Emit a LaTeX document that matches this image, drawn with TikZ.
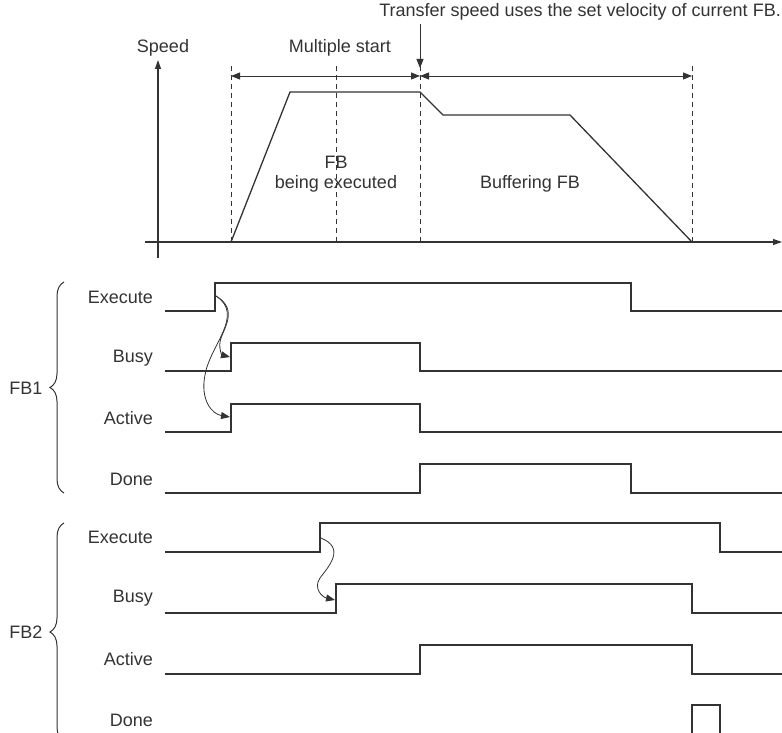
\documentclass[tikz,border=0pt]{standalone}
\usepackage{fontspec}
\setmainfont{Liberation Sans}
\usetikzlibrary{arrows.meta,decorations.pathreplacing}
\definecolor{ln}{HTML}{333333}
\begin{document}
\begin{tikzpicture}[x=1pt,y=-1pt,
  sig/.style={draw=ln,line width=1.3pt},
  axis/.style={draw=ln,line width=1.1pt,-{Triangle[length=9pt,width=6pt]}},
  guide/.style={draw=ln,line width=0.8pt,dash pattern=on 5pt off 4pt},
  span/.style={draw=ln,line width=0.8pt,{Triangle[length=9pt,width=7pt]}-{Triangle[length=9pt,width=7pt]}},
  cause/.style={draw=ln,line width=0.8pt,-{Triangle[length=9pt,width=7pt]}},
  lbl/.style={font=\fontsize{18}{21}\selectfont,text=ln,inner sep=0pt},
  rlbl/.style={lbl,anchor=east},
  brc/.style={draw=ln,line width=1pt,decorate,decoration={brace,amplitude=14pt,mirror}}]
\useasboundingbox (0,0) rectangle (782,733);
% top chart
\node[lbl,anchor=east] (note) at (781,12) {Transfer speed uses the set velocity of current FB.};
\coordinate (na) at (420,24);
\coordinate (nb) at (420,68);
\draw[cause] (na) -- (nb);
\node[lbl] (speed) at (163,48) {Speed};
\node[lbl] (multi) at (340,48) {Multiple start};
\coordinate (y0) at (158,258);
\coordinate (y1) at (158,60);
\draw[axis] (y0) -- (y1);
\coordinate (x0) at (145,242);
\coordinate (x1) at (782,242);
\draw[axis] (x0) -- (x1);
\foreach \x in {231,336,420,692} \draw[guide] (\x,66) -- (\x,242);
\coordinate (s1) at (231,76);
\coordinate (s2) at (420,76);
\coordinate (s3) at (692,76);
\draw[span] (s1) -- (s2);
\draw[span] (s2) -- (s3);
\draw[sig] (231,242) -- (290,92) -- (420,92) -- (443,115) -- (570,115) -- (692,242);
\node[lbl] (fb) at (336,162) {FB};
\node[lbl] (exe) at (336,184) {being executed};
\node[lbl] (buf) at (530,184) {Buffering FB};
% FB1
\node[rlbl] (l1) at (153,297) {Execute};
\node[rlbl] (l2) at (153,358) {Busy};
\node[rlbl] (l3) at (153,418) {Active};
\node[rlbl] (l4) at (153,479) {Done};
\draw[sig] (165,311) -- (215,311) -- (215,283) -- (631,283) -- (631,311) -- (782,311);
\draw[sig] (165,371) -- (231,371) -- (231,343) -- (420,343) -- (420,371) -- (782,371);
\draw[sig] (165,432) -- (231,432) -- (231,404) -- (420,404) -- (420,432) -- (782,432);
\draw[sig] (165,493) -- (420,493) -- (420,464) -- (631,464) -- (631,493) -- (782,493);
\coordinate (c0) at (216,296);
\coordinate (c1) at (230,357);
\coordinate (c2) at (230,417);
\draw[cause] (c0) .. controls (240,310) and (222,330) .. (220,342) .. controls (219,350) and (222,355) .. (c1);
\draw[cause] (c0) .. controls (245,315) and (210,345) .. (205,375) .. controls (200,400) and (212,414) .. (c2);
\draw[brc] (64,282) -- (64,493);
\node[lbl] (fb1) at (26,388) {FB1};
% FB2
\node[rlbl] (m1) at (153,537) {Execute};
\node[rlbl] (m2) at (153,598) {Busy};
\node[rlbl] (m3) at (153,659) {Active};
\node[rlbl] (m4) at (153,720) {Done};
\draw[sig] (165,552) -- (320,552) -- (320,523) -- (720,523) -- (720,552) -- (782,552);
\draw[sig] (165,613) -- (336,613) -- (336,584) -- (692,584) -- (692,613) -- (782,613);
\draw[sig] (165,674) -- (420,674) -- (420,645) -- (692,645) -- (692,674) -- (782,674);
\draw[sig] (692,734) -- (692,705) -- (720,705) -- (720,734);
\coordinate (d0) at (321,538);
\coordinate (d1) at (335,600);
\draw[cause] (d0) .. controls (345,548) and (330,565) .. (320,578) .. controls (313,588) and (322,597) .. (d1);
\draw[brc] (64,523) -- (64,741);
\node[lbl] (fb2) at (26,632) {FB2};
\end{tikzpicture}
\end{document}
